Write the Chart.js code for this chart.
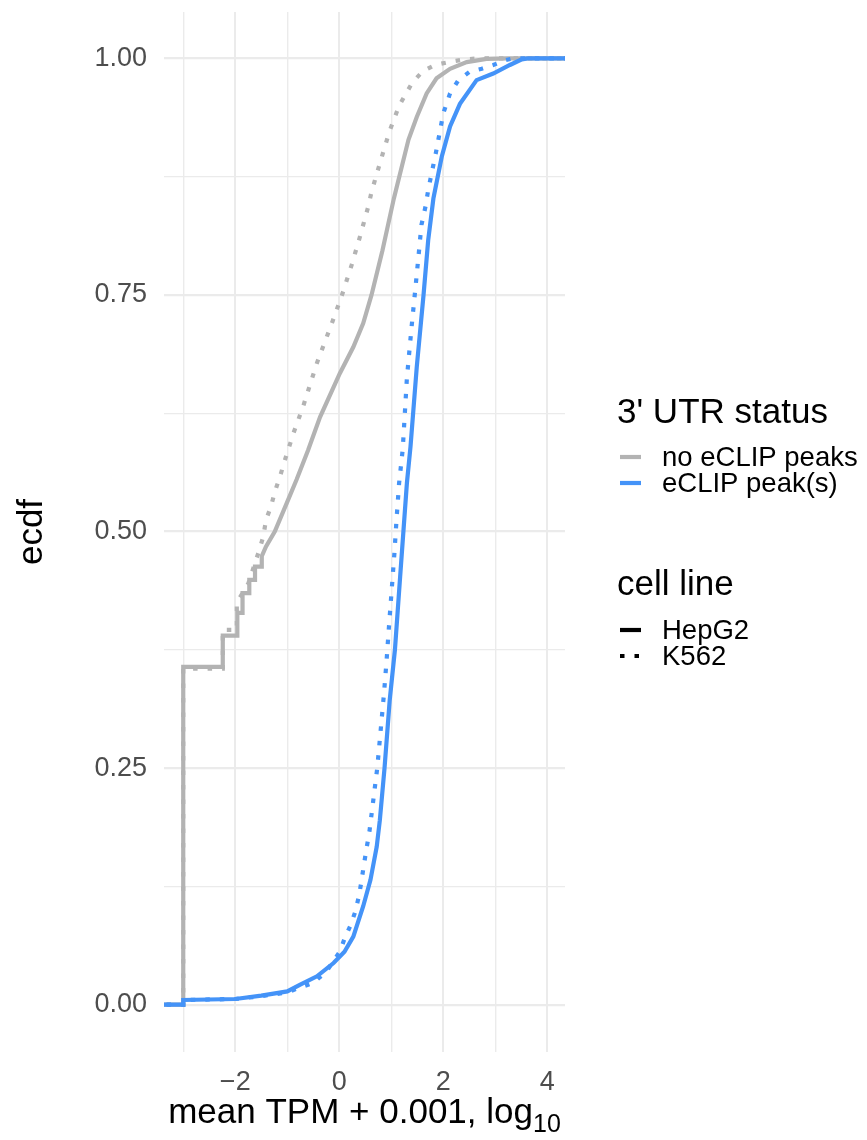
<!DOCTYPE html>
<html>
<head>
<meta charset="utf-8">
<script src="https://cdn.jsdelivr.net/npm/chart.js@4/dist/chart.umd.min.js"></script>
<style>
  html, body { margin: 0; padding: 0; background: #ffffff; }
  canvas { display: block; }
</style>
</head>
<body>
<canvas id="c" width="867" height="1140"></canvas>
<script>
// ECDF of mean TPM (log10 of TPM + 0.001), split by 3' UTR eCLIP status and cell line

// no eCLIP peaks, HepG2
const noPeakHepG2X = [-3.6, -3, -3, -2.24, -2.24, -1.96, -1.96, -1.86, -1.86, -1.73, -1.73, -1.62, -1.62, -1.49, -1.49, -1.41, -1.24, -1.01, -0.82, -0.6, -0.37, 0.01, 0.27, 0.46, 0.62, 0.83, 1.05, 1.33, 1.49, 1.68, 1.87, 2.13, 2.45, 2.83, 3.22, 4.6];
const noPeakHepG2Y = [0, 0, 0.357, 0.357, 0.390, 0.390, 0.414, 0.414, 0.435, 0.435, 0.449, 0.449, 0.463, 0.463, 0.474, 0.484, 0.500, 0.530, 0.555, 0.586, 0.621, 0.667, 0.695, 0.720, 0.750, 0.797, 0.852, 0.914, 0.938, 0.963, 0.979, 0.989, 0.996, 0.9995, 1, 1];

// no eCLIP peaks, K562
const noPeakK562X = [-3.6, -3, -3, -2.24, -2.24, -1.97, -1.97, -1.75, -1.54, -1.46, -1.41, -1.31, -1.24, -1.14, -1.06, -0.88, -0.69, -0.43, -0.13, 0.065, 0.24, 0.40, 0.56, 0.62, 0.78, 0.96, 1.15, 1.41, 1.62, 1.84, 2.10, 2.42, 2.7, 4.6];
const noPeakK562Y = [0, 0, 0.355, 0.355, 0.396, 0.396, 0.425, 0.445, 0.480, 0.495, 0.512, 0.527, 0.542, 0.558, 0.573, 0.604, 0.633, 0.678, 0.722, 0.752, 0.782, 0.812, 0.844, 0.859, 0.889, 0.922, 0.950, 0.975, 0.987, 0.993, 0.996, 0.999, 1, 1];

// eCLIP peak(s), HepG2
const peakHepG2X = [-3.6, -3, -3, -2, -1.5, -1, -0.76, -0.43, -0.11, 0.1, 0.27, 0.46, 0.60, 0.72, 0.78, 0.87, 0.97, 1.07, 1.17, 1.30, 1.37, 1.49, 1.62, 1.71, 1.81, 1.97, 2.13, 2.32, 2.64, 2.96, 3.28, 3.51, 3.62, 4.6];
const peakHepG2Y = [0, 0, 0.005, 0.006, 0.0095, 0.014, 0.021, 0.030, 0.044, 0.056, 0.072, 0.104, 0.132, 0.167, 0.195, 0.25, 0.322, 0.375, 0.452, 0.551, 0.590, 0.674, 0.750, 0.808, 0.852, 0.896, 0.928, 0.952, 0.977, 0.984, 0.993, 0.999, 1, 1];

// eCLIP peak(s), K562
const peakK562X = [-3.6, -3, -3, -2, -1.5, -1, -0.76, -0.50, -0.25, 0.01, 0.11, 0.21, 0.30, 0.38, 0.43, 0.48, 0.53, 0.58, 0.73, 0.86, 0.91, 0.96, 1.01, 1.06, 1.10, 1.15, 1.22, 1.30, 1.39, 1.46, 1.52, 1.58, 1.66, 1.71, 1.86, 2.00, 2.13, 2.29, 2.51, 2.74, 2.96, 3.19, 3.35, 4.6];
const peakK562Y = [0, 0, 0.005, 0.006, 0.009, 0.013, 0.018, 0.023, 0.035, 0.056, 0.071, 0.083, 0.097, 0.115, 0.132, 0.150, 0.167, 0.183, 0.25, 0.329, 0.364, 0.403, 0.440, 0.477, 0.512, 0.551, 0.587, 0.662, 0.716, 0.755, 0.789, 0.824, 0.844, 0.861, 0.901, 0.942, 0.963, 0.977, 0.986, 0.989, 0.993, 0.998, 1, 1];

// axis ticks
const xTickValues = [-3, -2, -1, 0, 1, 2, 3, 4];
const xTickLabels = ['', '\u22122', '', '0', '', '2', '', '4'];
const yTickValues = [0, 0.125, 0.25, 0.375, 0.5, 0.625, 0.75, 0.875, 1];
const yTickLabels = ['0.00', '', '0.25', '', '0.50', '', '0.75', '', '1.00'];

// legend groups
const statusLabels = ['no eCLIP peaks', 'eCLIP peak(s)'];
const cellLineLabels = ['HepG2', 'K562'];

const GREY = '#B3B3B3';
const BLUE = '#4493F8';
const DOTS = [4.5, 10];
const LINE_W = 4.2;
const FONT = '"Liberation Sans", Arial, Helvetica, sans-serif';

function pts(xs, ys) { return xs.map((x, i) => ({ x: x, y: ys[i] })); }

function series(xs, ys, color, dashed, order) {
  return {
    data: pts(xs, ys),
    borderColor: color,
    borderWidth: LINE_W,
    borderDash: dashed ? DOTS : [],
    borderCapStyle: 'butt',
    borderJoinStyle: 'miter',
    pointRadius: 0,
    fill: false,
    tension: 0,
    order: order
  };
}

const decor = {
  id: 'decor',
  afterDraw(chart) {
    const ctx = chart.ctx;
    const area = chart.chartArea;
    ctx.save();

    // axis titles
    ctx.fillStyle = '#000000';
    ctx.textBaseline = 'alphabetic';
    const main = 'mean TPM + 0.001, log';
    ctx.font = '35px ' + FONT;
    const wMain = ctx.measureText(main).width;
    ctx.font = '25px ' + FONT;
    const wSub = ctx.measureText('10').width;
    const cx = (area.left + area.right) / 2;
    const x0 = cx - (wMain + wSub) / 2;
    ctx.font = '35px ' + FONT;
    ctx.textAlign = 'left';
    ctx.fillText(main, x0, 1123);
    ctx.font = '25px ' + FONT;
    ctx.fillText('10', x0 + wMain, 1132);

    ctx.save();
    ctx.translate(42, (area.top + area.bottom) / 2);
    ctx.rotate(-Math.PI / 2);
    ctx.font = '35px ' + FONT;
    ctx.textAlign = 'center';
    ctx.fillText('ecdf', 0, 0);
    ctx.restore();

    // legend: 3' UTR status
    ctx.textAlign = 'left';
    ctx.font = '35px ' + FONT;
    ctx.fillText("3' UTR status", 617, 423);
    const keyX0 = 620, keyX1 = 641, textX = 662;
    const statusColors = [GREY, BLUE];
    const statusY = [457, 483];
    ctx.font = '27.5px ' + FONT;
    ctx.textBaseline = 'middle';
    statusLabels.forEach((lab, i) => {
      ctx.strokeStyle = statusColors[i];
      ctx.lineWidth = LINE_W;
      ctx.lineCap = 'butt';
      ctx.setLineDash([]);
      ctx.beginPath();
      ctx.moveTo(keyX0, statusY[i]);
      ctx.lineTo(keyX1, statusY[i]);
      ctx.stroke();
      ctx.fillStyle = '#000000';
      ctx.fillText(lab, textX, statusY[i] + 1);
    });

    // legend: cell line
    ctx.textBaseline = 'alphabetic';
    ctx.font = '35px ' + FONT;
    ctx.fillText('cell line', 617, 595);
    const cellY = [630, 656];
    const cellDash = [[], DOTS];
    ctx.font = '27.5px ' + FONT;
    ctx.textBaseline = 'middle';
    cellLineLabels.forEach((lab, i) => {
      ctx.strokeStyle = '#000000';
      ctx.lineWidth = LINE_W;
      ctx.setLineDash(cellDash[i]);
      ctx.beginPath();
      ctx.moveTo(keyX0, cellY[i]);
      ctx.lineTo(keyX1, cellY[i]);
      ctx.stroke();
      ctx.setLineDash([]);
      ctx.fillText(lab, textX, cellY[i] + 1);
    });

    ctx.restore();
  }
};

new Chart(document.getElementById('c'), {
  type: 'line',
  data: {
    datasets: [
      series(noPeakHepG2X, noPeakHepG2Y, GREY, false, 4),
      series(noPeakK562X, noPeakK562Y, GREY, true, 3),
      series(peakHepG2X, peakHepG2Y, BLUE, false, 2),
      series(peakK562X, peakK562Y, BLUE, true, 1)
    ]
  },
  options: {
    responsive: false,
    animation: false,
    events: [],
    layout: { padding: { left: 0, right: 302, top: 12, bottom: 0 } },
    plugins: { legend: { display: false }, tooltip: { enabled: false } },
    scales: {
      x: {
        type: 'linear',
        min: -3.37,
        max: 4.34,
        afterBuildTicks(scale) { scale.ticks = xTickValues.map(v => ({ value: v })); },
        afterFit(scale) { scale.height = 88; scale.paddingLeft = 0; scale.paddingRight = 0; },
        grid: {
          color: '#EBEBEB',
          lineWidth: ctx => (ctx.tick && Math.abs(ctx.tick.value % 2) === 0 ? 2 : 1.4),
          drawTicks: false
        },
        border: { display: false },
        ticks: {
          autoSkip: false,
          maxRotation: 0,
          padding: 14,
          color: '#4D4D4D',
          font: { family: FONT, size: 27 },
          callback: (v) => { const i = xTickValues.indexOf(v); return i >= 0 ? xTickLabels[i] : ''; }
        }
      },
      y: {
        type: 'linear',
        min: -0.05,
        max: 1.049,
        afterBuildTicks(scale) { scale.ticks = yTickValues.map(v => ({ value: v })); },
        afterFit(scale) { scale.width = 164; scale.paddingTop = 0; scale.paddingBottom = 0; },
        grid: {
          color: '#EBEBEB',
          lineWidth: ctx => (ctx.tick && yTickLabels[yTickValues.indexOf(ctx.tick.value)] !== '' ? 2.2 : 1.2),
          drawTicks: false
        },
        border: { display: false },
        ticks: {
          autoSkip: false,
          padding: 17,
          color: '#4D4D4D',
          font: { family: FONT, size: 27 },
          callback: (v) => { const i = yTickValues.indexOf(v); return i >= 0 ? yTickLabels[i] : ''; }
        }
      }
    }
  },
  plugins: [decor]
});
</script>
</body>
</html>
